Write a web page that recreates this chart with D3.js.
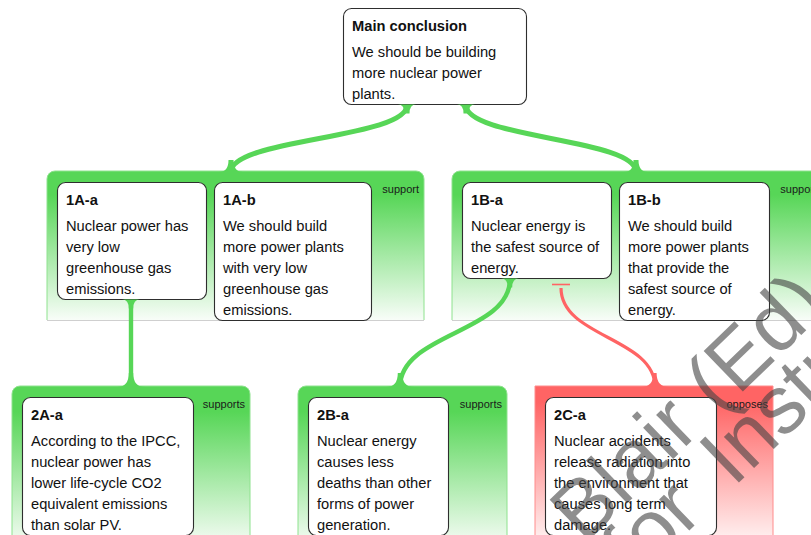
<!DOCTYPE html>
<html>
<head>
<meta charset="utf-8">
<script src="https://cdn.jsdelivr.net/npm/d3@7"></script>
<style>
  html, body { margin: 0; padding: 0; background: #fff; overflow: hidden; }
  svg { display: block; font-family: 'Liberation Sans', Arial, Helvetica, sans-serif; }
</style>
</head>
<body>
<svg id="map" width="811" height="535"></svg>
<script>
// ---- content of the argument map ----
const claimIds = ['main', '1A-a', '1A-b', '1B-a', '1B-b', '2A-a', '2B-a', '2C-a']
const claimTitles = ['Main conclusion', '1A-a', '1A-b', '1B-a', '1B-b', '2A-a', '2B-a', '2C-a']
const claimLines = [
  ['We should be building', 'more nuclear power', 'plants.'],
  ['Nuclear power has', 'very low', 'greenhouse gas', 'emissions.'],
  ['We should build', 'more power plants', 'with very low', 'greenhouse gas', 'emissions.'],
  ['Nuclear energy is', 'the safest source of', 'energy.'],
  ['We should build', 'more power plants', 'that provide the', 'safest source of', 'energy.'],
  ['According to the IPCC,', 'nuclear power has', 'lower life-cycle CO2', 'equivalent emissions', 'than solar PV.'],
  ['Nuclear energy', 'causes less', 'deaths than other', 'forms of power', 'generation.'],
  ['Nuclear accidents', 'release radiation into', 'the environment that', 'causes long term', 'damage.'],
]

// co-premise groups, the claim each one points at, and how
const groupIds = ['1A', '1B', '2A', '2B', '2C']
const groupMembers = [['1A-a', '1A-b'], ['1B-a', '1B-b'], ['2A-a'], ['2B-a'], ['2C-a']]
const groupTargets = ['main', 'main', '1A-a', '1B-a', '1B-a']
const groupLabels = ['support', 'support', 'supports', 'supports', 'opposes']
const groupKinds = ['pro', 'pro', 'pro', 'pro', 'con']

const watermarkFirst = 'Blair (Ed).'
const watermarkSecond = ['for', 'Instructor']

// ---- layout (kept apart from the content) ----
const boxLevel = {main: 0, '1A-a': 1, '1A-b': 1, '1B-a': 1, '1B-b': 1, '2A-a': 2, '2B-a': 2, '2C-a': 2}
const boxX = {main: 343, '1A-a': 57, '1A-b': 214, '1B-a': 462, '1B-b': 619, '2A-a': 22, '2B-a': 308, '2C-a': 545}
const boxW = {main: 183, '1A-a': 149, '1A-b': 157, '1B-a': 149, '1B-b': 150, '2A-a': 171, '2B-a': 140, '2C-a': 171}
const groupRight = {'1A': 424, '1B': 822, '2A': 250, '2B': 507, '2C': 773}
const linkFromX = {'1A': 407, '1B': 466, '2A': 131, '2B': 510, '2C': 561}   // on target box bottom
const linkToX = {'1A': 231, '1B': 636, '2A': 131, '2B': 400, '2C': 655}     // on group top

const levelTop = d3.scaleOrdinal().domain([0, 1, 2]).range([8, 182, 397])

const COLOR = {pro: '#57d657', con: '#ff6464'}
const SIDE = {pro: '#8ee28e', con: '#ff8c8c'}
const FONT = 14.7
const LINE_H = 21
const TITLE_DY = 23
const BODY_DY = 49
const PAD_X = 9

const svg = d3.select('#map')
const defs = svg.append('defs')

const boxes = {}
claimIds.forEach((id, i) => {
  const n = claimLines[i].length
  boxes[id] = {
    id: id,
    title: claimTitles[i],
    lines: claimLines[i],
    x: boxX[id],
    y: levelTop(boxLevel[id]),
    w: boxW[id],
    h: BODY_DY + (n - 1) * LINE_H + 5,
  }
})

const groups = groupIds.map((gid, i) => {
  const members = groupMembers[i].map((m) => boxes[m])
  const top = d3.min(members, (b) => b.y) - 11
  const level = boxLevel[groupMembers[i][0]]
  let bottom = d3.max(members, (b) => b.y + b.h)
  if (level === 2) bottom += 12
  return {
    id: gid,
    kind: groupKinds[i],
    label: groupLabels[i],
    target: boxes[groupTargets[i]],
    left: d3.min(members, (b) => b.x) - 10,
    right: groupRight[gid],
    top: top,
    bottom: bottom,
    level: level,
  }
})

// gradients: solid at the top, fading to white
groups.forEach((g) => {
  const grad = defs.append('linearGradient')
    .attr('id', 'grad-' + g.id)
    .attr('x1', 0).attr('y1', 0).attr('x2', 0).attr('y2', 1)
  const solid = g.kind === 'con' ? 0.1 : 0.16
  grad.append('stop').attr('offset', 0).attr('stop-color', COLOR[g.kind])
  grad.append('stop').attr('offset', solid).attr('stop-color', COLOR[g.kind])
  grad.append('stop').attr('offset', 1).attr('stop-color', g.kind === 'con' ? '#fff8f8' : '#f8fdf8')
})

function groupShape(g) {
  const p = d3.path()
  const r = g.kind === 'con' ? 0 : 8
  p.moveTo(g.left, g.bottom)
  p.lineTo(g.left, g.top + r)
  if (r) p.arcTo(g.left, g.top, g.left + r, g.top, r)
  p.lineTo(g.right - r, g.top)
  if (r) p.arcTo(g.right, g.top, g.right, g.top + r, r)
  p.lineTo(g.right, g.bottom)
  return p.toString()
}

const gGroups = svg.append('g').attr('class', 'groups')
gGroups.selectAll('path.group')
  .data(groups)
  .join('path')
  .attr('class', 'group')
  .attr('d', groupShape)
  .attr('fill', (g) => `url(#grad-${g.id})`)
  .attr('stroke', (g) => SIDE[g.kind])
  .attr('stroke-width', 1)

gGroups.selectAll('line.base')
  .data(groups)
  .join('line')
  .attr('class', 'base')
  .attr('x1', (g) => g.left)
  .attr('x2', (g) => g.right)
  .attr('y1', (g) => g.bottom + 0.5)
  .attr('y2', (g) => g.bottom + 0.5)
  .attr('stroke', '#cfcfcf')
  .attr('stroke-width', 1)

gGroups.selectAll('text.rel')
  .data(groups)
  .join('text')
  .attr('class', 'rel')
  .attr('x', (g) => g.right - 5)
  .attr('y', (g) => g.top + 22)
  .attr('text-anchor', 'end')
  .attr('font-size', 11)
  .attr('fill', '#1a1a1a')
  .text((g) => g.label)

// claim boxes
const gBoxes = svg.append('g').attr('class', 'boxes')
  .selectAll('g.box')
  .data(Object.values(boxes))
  .join('g')
  .attr('class', 'box')
  .attr('transform', (b) => `translate(${b.x}, ${b.y})`)

gBoxes.append('rect')
  .attr('x', 0.5).attr('y', 0.5)
  .attr('width', (b) => b.w)
  .attr('height', (b) => b.h)
  .attr('rx', 8)
  .attr('fill', '#fff')
  .attr('stroke', '#2e2e2e')
  .attr('stroke-width', 1.1)

gBoxes.append('text')
  .attr('x', PAD_X)
  .attr('y', TITLE_DY)
  .attr('font-size', FONT)
  .attr('font-weight', 'bold')
  .attr('fill', '#111')
  .text((b) => b.title)

gBoxes.each(function(b) {
  d3.select(this).selectAll('text.body')
    .data(b.lines)
    .join('text')
    .attr('class', 'body')
    .attr('x', PAD_X)
    .attr('y', (d, i) => BODY_DY + i * LINE_H)
    .attr('font-size', FONT)
    .attr('fill', '#111')
    .text((d) => d)
})

// connectors: curves with flared ends
const link = d3.linkVertical()
function flare(x, y, r, w, dir) {
  const p = d3.path()
  p.moveTo(x - r, y)
  p.quadraticCurveTo(x - w, y, x - w, y + dir * r)
  p.lineTo(x + w, y + dir * r)
  p.quadraticCurveTo(x + w, y, x + r, y)
  p.closePath()
  return p.toString()
}

const gLinks = svg.append('g').attr('class', 'links')
groups.forEach((g) => {
  const color = COLOR[g.kind]
  const boxBottom = g.target.y + g.target.h + 1
  const fromX = linkFromX[g.id]
  const toX = linkToX[g.id]
  const width = g.kind === 'con' ? 3.2 : (g.level === 1 ? 5 : 4.4)
  const startY = g.kind === 'con' ? boxBottom + 9 : boxBottom

  gLinks.append('path')
    .attr('d', link({source: [fromX, startY], target: [toX, g.top + 1]}))
    .attr('fill', 'none')
    .attr('stroke', color)
    .attr('stroke-width', width)

  gLinks.append('path')
    .attr('d', flare(toX, g.top + 1, g.level === 2 ? 14 : 12, width / 2, -1))
    .attr('fill', color)

  if (g.kind === 'con') {
    gLinks.append('line')
      .attr('x1', fromX - 9).attr('x2', fromX + 9)
      .attr('y1', boxBottom + 5.5).attr('y2', boxBottom + 5.5)
      .attr('stroke', color)
      .attr('stroke-width', 1.6)
  } else {
    gLinks.append('path')
      .attr('d', flare(fromX, boxBottom - 0.5, 9, width / 2, 1))
      .attr('fill', color)
  }
})

// watermark printed over the page
const wm = svg.append('g')
  .attr('class', 'watermark')
  .attr('opacity', 0.6)
  .attr('font-size', 82)
  .attr('fill', '#444')
wm.append('text')
  .attr('transform', 'translate(584, 545) rotate(-44)')
  .text(watermarkFirst)
const second = wm.append('text')
  .attr('transform', 'translate(636, 582) rotate(-44)')
second.append('tspan').text(watermarkSecond[0])
second.append('tspan').attr('dx', 40).text(watermarkSecond[1])
</script>
</body>
</html>
